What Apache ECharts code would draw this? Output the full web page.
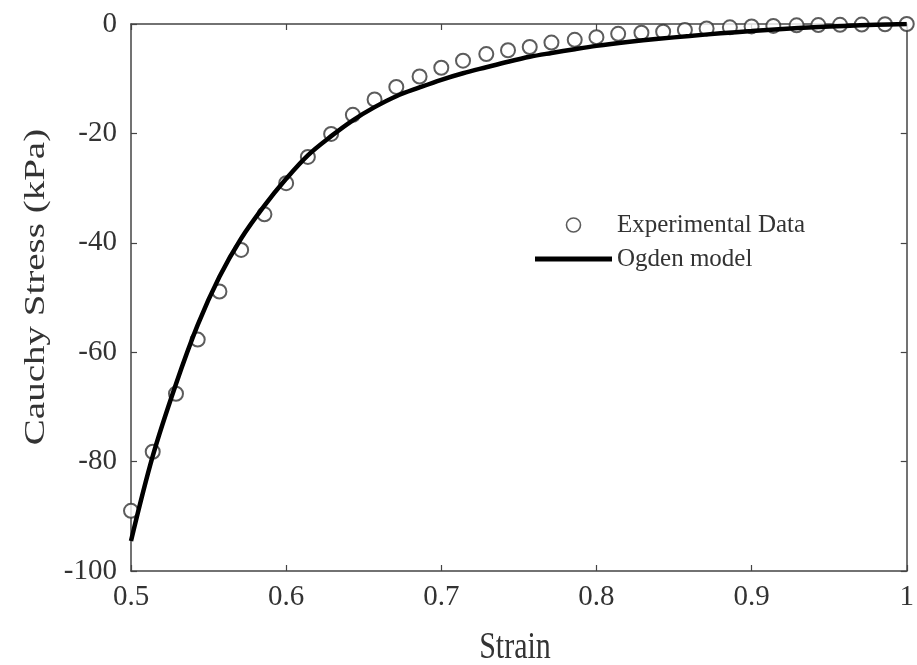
<!DOCTYPE html>
<html>
<head>
<meta charset="utf-8">
<script src="https://cdn.jsdelivr.net/npm/echarts@6/dist/echarts.min.js"></script>
<style>html,body{margin:0;padding:0;background:#fff}#c{width:917px;height:665px}</style>
</head>
<body>
<div id="c"></div>
<script>
// Experimental data
const expStrain = [0.5, 0.514, 0.529, 0.543, 0.557, 0.571, 0.586, 0.6, 0.614, 0.629, 0.643, 0.657, 0.671, 0.686, 0.7, 0.714, 0.729, 0.743, 0.757, 0.771, 0.786, 0.8, 0.814, 0.829, 0.843, 0.857, 0.871, 0.886, 0.9, 0.914, 0.929, 0.943, 0.957, 0.971, 0.986, 1.0];
const expStress = [-89.0, -78.2, -67.6, -57.7, -48.9, -41.3, -34.8, -29.1, -24.3, -20.1, -16.6, -13.8, -11.5, -9.6, -8.0, -6.7, -5.5, -4.8, -4.2, -3.4, -2.9, -2.4, -1.8, -1.6, -1.4, -1.1, -0.8, -0.6, -0.45, -0.35, -0.25, -0.2, -0.15, -0.1, -0.05, 0];
// Ogden model curve
const modelStrain = [0.5, 0.514, 0.529, 0.543, 0.557, 0.571, 0.586, 0.6, 0.614, 0.629, 0.643, 0.657, 0.671, 0.686, 0.7, 0.714, 0.729, 0.743, 0.757, 0.771, 0.786, 0.8, 0.82, 0.84, 0.86, 0.88, 0.9, 0.92, 0.94, 0.96, 0.98, 1.0];
const modelStress = [-94.5, -79.0, -65.8, -55.0, -46.2, -39.2, -33.2, -28.3, -24.0, -20.5, -17.6, -15.2, -13.2, -11.6, -10.2, -9.0, -7.9, -6.9, -6.0, -5.3, -4.6, -4.0, -3.3, -2.7, -2.2, -1.7, -1.3, -0.9, -0.6, -0.35, -0.15, 0];
const seriesNames = ['Experimental Data', 'Ogden model'];
const xTitle = 'Strain';
const yTitle = 'Cauchy Stress (kPa)';

const FONT = 'Liberation Serif';
const TXT = '#333';
const chart = echarts.init(document.getElementById('c'), null, {renderer: 'canvas'});

const axisCommon = {
  axisLine: {show: true, onZero: false, lineStyle: {color: '#444', width: 1.5}},
  axisTick: {show: true, inside: true, length: 6, lineStyle: {color: '#444', width: 1.2}},
  splitLine: {show: false}
};

chart.setOption({
  animation: false,
  backgroundColor: '#fff',
  grid: {left: 131, right: 9, top: 24, bottom: 94, containLabel: false},
  xAxis: [
    Object.assign({type: 'value', min: 0.5, max: 1, interval: 0.1, position: 'bottom',
      axisLabel: {color: TXT, fontFamily: FONT, fontSize: 29, margin: 12}}, axisCommon),
    Object.assign({type: 'value', min: 0.5, max: 1, interval: 0.1, position: 'top',
      axisLabel: {show: false}}, axisCommon)
  ],
  yAxis: [
    Object.assign({type: 'value', min: -100, max: 0, interval: 20, position: 'left',
      axisLabel: {color: TXT, fontFamily: FONT, fontSize: 29, margin: 14}}, axisCommon),
    Object.assign({type: 'value', min: -100, max: 0, interval: 20, position: 'right',
      axisLabel: {show: false}}, axisCommon)
  ],
  legend: {
    orient: 'vertical', left: 530, top: 207,
    itemWidth: 77, itemHeight: 14, itemGap: 8,
    textStyle: {color: TXT, fontFamily: FONT, fontSize: 25, lineHeight: 26},
    data: [
      {name: seriesNames[0], icon: 'circle', itemStyle: {color: 'rgba(255,255,255,0)', borderColor: '#333', borderWidth: 1.6}},
      {name: seriesNames[1], icon: 'path://M0,0L77,0L77,5L0,5Z', itemStyle: {color: '#000'}}
    ]
  },
  graphic: [
    {type: 'text', x: 515, y: 648, style: {text: xTitle, font: '30px "Liberation Serif"', fill: TXT, align: 'center', verticalAlign: 'middle'}, scaleY: 1.25},
    {type: 'text', x: 36, y: 287, rotation: Math.PI / 2, scaleX: 1.3, style: {text: yTitle, font: '30px "Liberation Serif"', fill: TXT, align: 'center', verticalAlign: 'middle'}}
  ],
  series: [
    {
      name: seriesNames[0], type: 'scatter', xAxisIndex: 0, yAxisIndex: 0,
      symbol: 'emptyCircle', symbolSize: 14, z: 3,
      itemStyle: {color: '#333', borderColor: '#333', borderWidth: 1.6},
      data: expStrain.map((x, i) => [x, expStress[i]])
    },
    {
      name: seriesNames[1], type: 'line', xAxisIndex: 0, yAxisIndex: 0,
      symbol: 'none', smooth: 0.35, z: 4,
      lineStyle: {color: '#000', width: 4.5},
      itemStyle: {color: '#000'},
      data: modelStrain.map((x, i) => [x, modelStress[i]])
    }
  ]
});
</script>
</body>
</html>
